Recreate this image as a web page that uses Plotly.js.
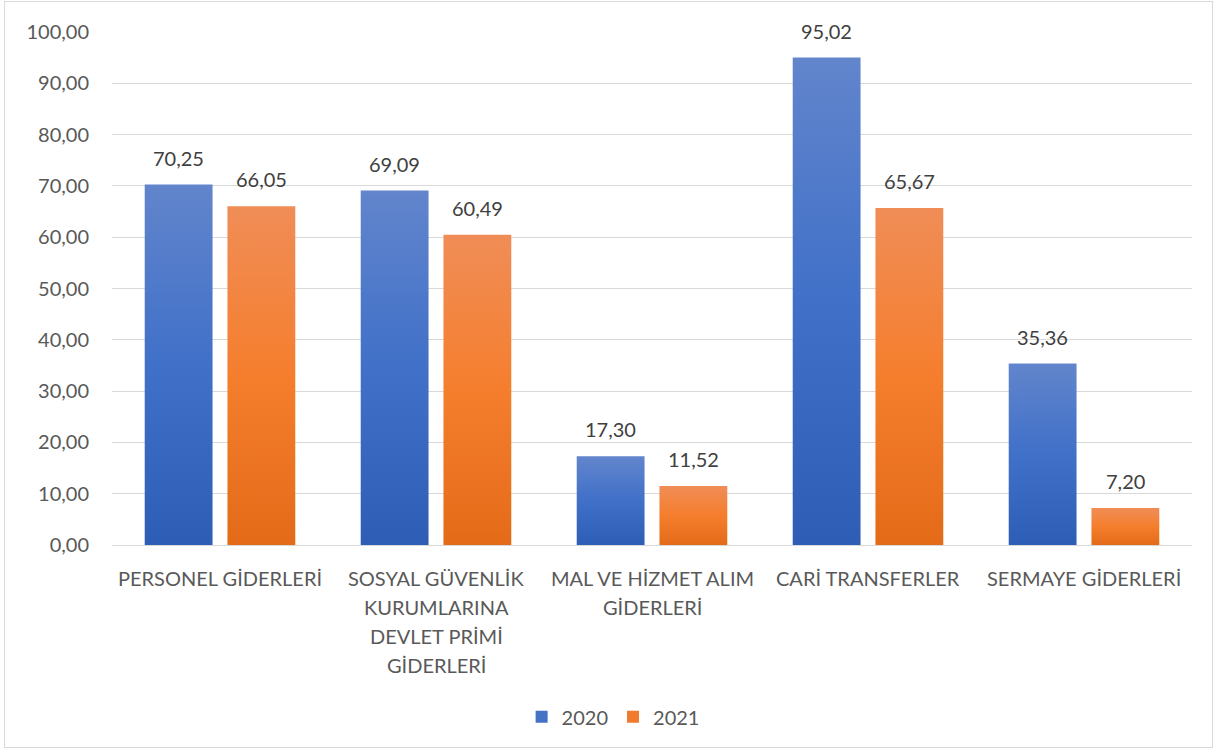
<!DOCTYPE html>
<html>
<head>
<meta charset="utf-8">
<script src="https://cdn.plot.ly/plotly-3.0.1.min.js"></script>
<style>
  html, body { margin: 0; padding: 0; background: #fff; }
  #frame { position: absolute; left: 4px; top: 1px; width: 1209px; height: 747px; border: 1px solid #d9d9d9; box-sizing: border-box; pointer-events: none; z-index: 10; }
  #chart { width: 1219px; height: 753px; }
</style>
</head>
<body>
<div id="frame"></div>
<div id="chart"></div>
<script>
const categories = [
  "PERSONEL GİDERLERİ",
  "SOSYAL GÜVENLİK\nKURUMLARINA\nDEVLET PRİMİ\nGİDERLERİ",
  "MAL VE HİZMET ALIM\nGİDERLERİ",
  "CARİ TRANSFERLER",
  "SERMAYE GİDERLERİ"
];
const seriesNames = ["2020", "2021"];
const values2020 = [70.25, 69.09, 17.30, 95.02, 35.36];
const values2021 = [66.05, 60.49, 11.52, 65.67, 7.20];
const yTicks = [0, 10, 20, 30, 40, 50, 60, 70, 80, 90, 100];

const font = "Lato, 'Open Sans', sans-serif";
const catKeys = categories.map((c, i) => "c" + i);
const fmt = v => v.toFixed(2).replace(".", ",");

const makeTrace = (name, vals, color) => ({
  type: "bar",
  name: name,
  x: catKeys,
  y: vals,
  marker: { color: color, line: { width: 0 } },
  hoverinfo: "none"
});

const annotations = [];
categories.forEach((c, i) => {
  c.split("\n").forEach((line, j) => {
    annotations.push({
      x: catKeys[i], xref: "x", y: 0, yref: "paper",
      text: line, showarrow: false,
      xanchor: "center", yanchor: "middle",
      yshift: -(33 + j * 29),
      font: { family: font, size: 20, color: "#595959" }
    });
  });
});
[values2020, values2021].forEach((vals, s) => {
  vals.forEach((v, i) => {
    annotations.push({
      x: catKeys[i], xref: "x", y: v, yref: "y",
      text: fmt(v), showarrow: false,
      xanchor: "center", yanchor: "middle",
      xshift: (s === 0 ? -41.5 : 41.5), yshift: 27,
      font: { family: font, size: 20, color: "#404040" }
    });
  });
});

const layout = {
  width: 1219, height: 753,
  margin: { l: 112, r: 27, t: 32, b: 208 },
  paper_bgcolor: "#ffffff",
  plot_bgcolor: "#ffffff",
  separators: ",.",
  barmode: "group",
  bargap: 0.234,
  bargroupgap: 0.18,
  showlegend: true,
  legend: {
    orientation: "h", x: 0.464, xanchor: "center", y: -0.335, yanchor: "middle",
    font: { family: font, size: 20, color: "#595959" },
    traceorder: "normal"
  },
  xaxis: {
    type: "category",
    showticklabels: false,
    showgrid: false,
    zeroline: false,
    showline: true, linecolor: "#d9d9d9", linewidth: 1,
    ticks: ""
  },
  yaxis: {
    range: [0, 100],
    tickvals: yTicks,
    tickformat: ".2f",
    showgrid: true, gridcolor: "#d9d9d9", gridwidth: 1,
    zeroline: false, showline: false,
    ticks: "",
    ticklabelstandoff: 22,
    tickfont: { family: font, size: 20, color: "#595959" }
  },
  annotations: annotations
};

Plotly.newPlot("chart", [
  makeTrace(seriesNames[0], values2020, "#4472C4"),
  makeTrace(seriesNames[1], values2021, "#F07B2E")
], layout, { displayModeBar: false, staticPlot: true }).then(gd => {
  // vertical gradient fill on bars, like the original chart
  const svg = gd.querySelector("svg.main-svg");
  const ns = "http://www.w3.org/2000/svg";
  let defs = svg.querySelector("defs");
  if (!defs) { defs = document.createElementNS(ns, "defs"); svg.insertBefore(defs, svg.firstChild); }
  const grads = [
    ["gBlue", [["0%", "#6285CC"], ["50%", "#4070C8"], ["100%", "#2E5DB6"]]],
    ["gOrange", [["0%", "#F08D57"], ["50%", "#F57E2D"], ["100%", "#E36B18"]]]
  ];
  grads.forEach(([id, stops]) => {
    const lg = document.createElementNS(ns, "linearGradient");
    lg.setAttribute("id", id);
    lg.setAttribute("x1", "0"); lg.setAttribute("y1", "0");
    lg.setAttribute("x2", "0"); lg.setAttribute("y2", "1");
    stops.forEach(([o, c]) => {
      const st = document.createElementNS(ns, "stop");
      st.setAttribute("offset", o); st.setAttribute("stop-color", c);
      lg.appendChild(st);
    });
    defs.appendChild(lg);
  });
  gd.querySelectorAll("g.trace.bars").forEach((t, k) => {
    t.querySelectorAll("path").forEach(p => {
      p.style.fill = "url(#" + grads[k][0] + ")";
    });
  });
});
</script>
</body>
</html>
